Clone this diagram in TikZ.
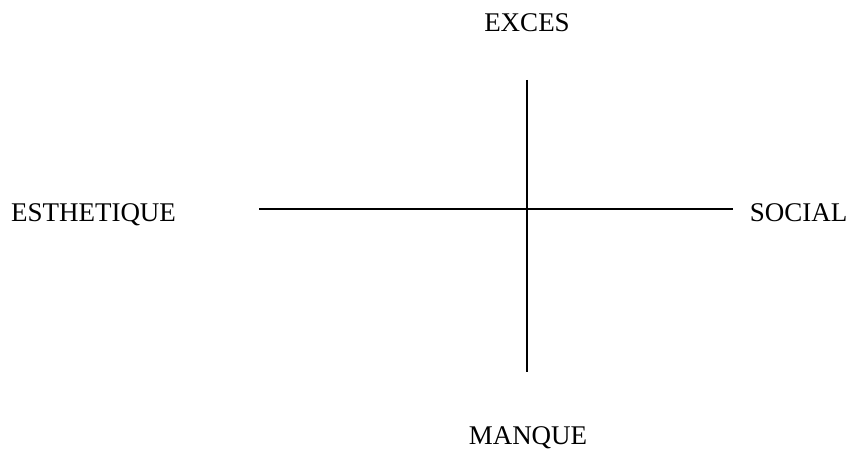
\documentclass[tikz,border=0pt]{standalone}
\usepackage{fontspec}
\setmainfont{Liberation Serif}
\begin{document}
\begin{tikzpicture}[x=1pt,y=-1pt,
  lbl/.style={font=\fontsize{27}{30}\selectfont, inner sep=0pt, anchor=base},
  axis/.style={line width=1.1pt}]
\useasboundingbox (0,0) rectangle (854,457);
\node[lbl] (exces) at (527,32) {EXCES};
\node[lbl] (manque) at (528,444) {MANQUE};
\node[lbl] (esth) at (93.5,222) {ESTHETIQUE};
\node[lbl] (social) at (798.5,222) {SOCIAL};
\coordinate (top) at (527,80);
\coordinate (bot) at (527,372);
\coordinate (left) at (259,209);
\coordinate (right) at (733,209);
\draw[axis] (top) -- (bot);
\draw[axis] (left) -- (right);
\end{tikzpicture}
\end{document}
